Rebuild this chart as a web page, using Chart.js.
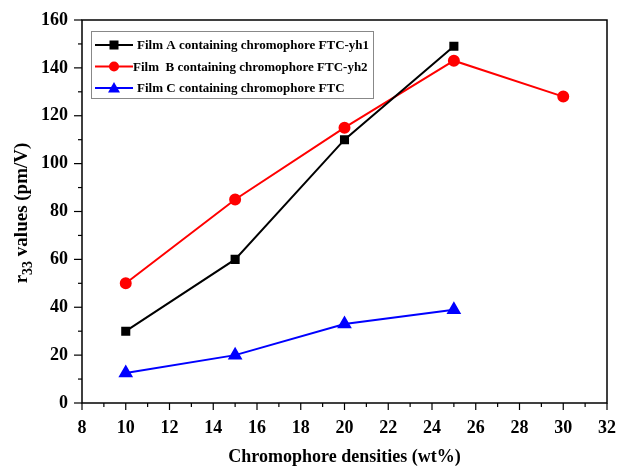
<!DOCTYPE html>
<html>
<head>
<meta charset="utf-8">
<script src="https://cdn.jsdelivr.net/npm/chart.js@4/dist/chart.umd.min.js"></script>
<style>
  html, body { margin: 0; padding: 0; background: #fff; }
  #wrap { width: 618px; height: 466px; }
</style>
</head>
<body>
<div id="wrap"><canvas id="chart"></canvas></div>
<script>
const densA = [10, 15, 20, 25];
const valuesA = [30, 60, 110, 149];
const densB = [10, 15, 20, 25, 30];
const valuesB = [50, 85, 115, 143, 128];
const densC = [10, 15, 20, 25];
const valuesC = [12.5, 20, 33, 39];
const labels = ["Film A containing chromophore FTC-yh1", "Film  B containing chromophore FTC-yh2", "Film C containing chromophore FTC"];
const xTicks = [8, 10, 12, 14, 16, 18, 20, 22, 24, 26, 28, 30, 32];
const yTicks = [0, 20, 40, 60, 80, 100, 120, 140, 160];

function pts(xs, ys) {
    return xs.map((x, i) => ({ x: x, y: ys[i] }));
}

const serif = "'Liberation Serif', 'Times New Roman', serif";

// ticks, frame, axis titles and legend
const extras = {
    id: "extras",
    afterDraw(chart) {
        const ctx = chart.ctx;
        const a = chart.chartArea;
        const xs = chart.scales.x;
        const ys = chart.scales.y;
        ctx.save();
        ctx.strokeStyle = "#000";
        ctx.lineWidth = 1.5;
        ctx.strokeRect(a.left, a.top, a.right - a.left, a.bottom - a.top);

        ctx.lineWidth = 1.2;
        for (let v = 8; v <= 32; v++) {
            const px = xs.getPixelForValue(v);
            const len = v % 2 === 0 ? 7 : 4;
            ctx.beginPath();
            ctx.moveTo(px, a.bottom);
            ctx.lineTo(px, a.bottom + len);
            ctx.stroke();
        }
        for (let v = 0; v <= 160; v += 10) {
            const py = ys.getPixelForValue(v);
            const len = v % 20 === 0 ? 8 : 4;
            ctx.beginPath();
            ctx.moveTo(a.left, py);
            ctx.lineTo(a.left - len, py);
            ctx.stroke();
        }

        // axis titles
        ctx.fillStyle = "#000";
        ctx.font = "bold 18px " + serif;
        ctx.textAlign = "center";
        ctx.textBaseline = "alphabetic";
        ctx.fillText("Chromophore densities (wt%)", (a.left + a.right) / 2, 462);

        ctx.save();
        ctx.translate(27, 213);
        ctx.rotate(-Math.PI / 2);
        ctx.textAlign = "left";
        const t1 = "r", t2 = "33", t3 = " values (pm/V)";
        ctx.font = "bold 19px " + serif;
        const w1 = ctx.measureText(t1).width;
        const w3 = ctx.measureText(t3).width;
        ctx.font = "bold 14px " + serif;
        const w2 = ctx.measureText(t2).width;
        let x0 = -(w1 + w2 + w3) / 2;
        ctx.font = "bold 19px " + serif;
        ctx.fillText(t1, x0, 0);
        ctx.font = "bold 14px " + serif;
        ctx.fillText(t2, x0 + w1, 5);
        ctx.font = "bold 19px " + serif;
        ctx.fillText(t3, x0 + w1 + w2, 0);
        ctx.restore();

        // legend box
        ctx.strokeStyle = "#888";
        ctx.lineWidth = 1;
        ctx.strokeRect(91.5, 31.5, 282, 67);
        ctx.font = "bold 13px " + serif;
        ctx.textAlign = "left";
        ctx.textBaseline = "middle";
        chart.data.datasets.forEach((ds, i) => {
            const y = 45 + i * 21.5;
            ctx.strokeStyle = ds.borderColor;
            ctx.lineWidth = 2;
            ctx.beginPath();
            ctx.moveTo(95, y);
            ctx.lineTo(133, y);
            ctx.stroke();
            ctx.fillStyle = ds.borderColor;
            const mx = 114;
            if (ds.pointStyle === "rect") {
                ctx.fillRect(mx - 4.5, y - 4.5, 9, 9);
            } else if (ds.pointStyle === "circle") {
                ctx.beginPath();
                ctx.arc(mx, y, 5, 0, Math.PI * 2);
                ctx.fill();
            } else {
                ctx.beginPath();
                ctx.moveTo(mx, y - 6);
                ctx.lineTo(mx + 6, y + 4.5);
                ctx.lineTo(mx - 6, y + 4.5);
                ctx.closePath();
                ctx.fill();
            }
            ctx.fillStyle = "#000";
            ctx.fillText(ds.label, i === 1 ? 133 : 137, y + 1);
        });
        ctx.restore();
    }
};

new Chart(document.getElementById("chart"), {
    type: "line",
    data: {
        datasets: [
            {
                label: labels[0],
                data: pts(densA, valuesA),
                borderColor: "#000000",
                backgroundColor: "#000000",
                borderWidth: 2,
                pointStyle: "rect",
                pointRadius: 5,
                tension: 0
            },
            {
                label: labels[1],
                data: pts(densB, valuesB),
                borderColor: "#ff0000",
                backgroundColor: "#ff0000",
                borderWidth: 2,
                pointStyle: "circle",
                pointRadius: 5,
                tension: 0
            },
            {
                label: labels[2],
                data: pts(densC, valuesC),
                borderColor: "#0000ff",
                backgroundColor: "#0000ff",
                borderWidth: 2,
                pointStyle: "triangle",
                pointRadius: 6.5,
                tension: 0
            }
        ]
    },
    options: {
        responsive: true,
        maintainAspectRatio: false,
        animation: false,
        layout: { padding: { left: 0, right: 11, top: 20, bottom: 0 } },
        plugins: {
            legend: { display: false },
            tooltip: { enabled: false }
        },
        scales: {
            x: {
                type: "linear",
                min: 8,
                max: 32,
                afterBuildTicks: (s) => { s.ticks = xTicks.map(v => ({ value: v })); },
                afterFit: (s) => { s.height = 63; s.paddingLeft = 0; s.paddingRight = 0; },
                grid: { display: false },
                border: { display: false },
                ticks: {
                    color: "#000",
                    padding: 7,
                    maxRotation: 0,
                    autoSkip: false,
                    font: { family: serif, size: 18, weight: "bold" }
                }
            },
            y: {
                min: 0,
                max: 160,
                afterBuildTicks: (s) => { s.ticks = yTicks.map(v => ({ value: v })); },
                afterFit: (s) => { s.width = 82; },
                grid: { display: false },
                border: { display: false },
                ticks: {
                    color: "#000",
                    padding: 6,
                    font: { family: serif, size: 18, weight: "bold" }
                }
            }
        }
    },
    plugins: [extras]
});
</script>
</body>
</html>
